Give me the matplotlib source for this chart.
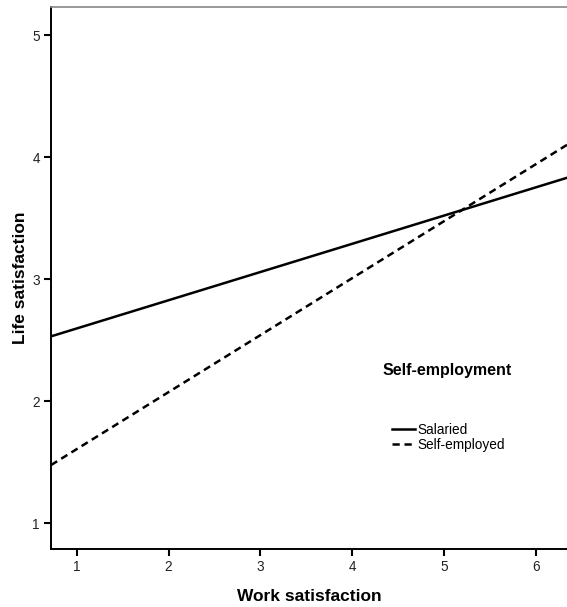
import matplotlib
matplotlib.use("Agg")
import matplotlib.pyplot as plt

# data: fitted lines evaluated at the axis edges
x_vals = [0.72, 6.34]
salaried = [2.53, 3.83]
self_employed = [1.475, 4.10]
x_ticks = [1, 2, 3, 4, 5, 6]
y_ticks = [1, 2, 3, 4, 5]
legend_title = 'Self-employment'

plt.rcParams['font.family'] = ['Liberation Sans', 'DejaVu Sans']

W, H = 567, 607
fig = plt.figure(figsize=(W/100, H/100), dpi=100)
ax = fig.add_axes([51/W, 58/H, 1 - 51/W, (549-7)/H])

ax.plot(x_vals, salaried, color='black', lw=1.8, ls='-', label='Salaried')
ax.plot(x_vals, self_employed, color='black', lw=1.8, ls=(0, (2.9, 1.9)), label='Self-employed')

ax.set_xlim(0.72, 6.34)
ax.set_ylim(0.787, 5.23)
ax.set_xticks(x_ticks)
ax.set_yticks(y_ticks)
ax.tick_params(axis='both', direction='out', length=5, width=1.5, labelsize=9.8, colors='black', pad=3)
for lab in ax.get_xticklabels() + ax.get_yticklabels():
    lab.set_color('#222222')

for s in ['left', 'bottom']:
    ax.spines[s].set_color('black')
    ax.spines[s].set_linewidth(1.4)
ax.spines['top'].set_color('#888888')
ax.spines['top'].set_linewidth(1.2)
ax.spines['right'].set_visible(False)

ax.set_xlabel('Work satisfaction', fontsize=12.5, fontweight='bold', labelpad=11)
ax.set_ylabel('Life satisfaction', fontsize=12.5, fontweight='bold', labelpad=3)

fig.text(383/W, 1 - 370/H, legend_title, fontsize=11.5, fontweight='bold', ha='left', va='center')
leg = ax.legend(loc='upper left', bbox_to_anchor=(392/W, 1 - 423/H), bbox_transform=fig.transFigure,
                frameon=False, fontsize=9.8, handlelength=1.7, handletextpad=0.15,
                labelspacing=0.05, borderpad=0, borderaxespad=0)

fig.savefig('out.png', dpi=100)
